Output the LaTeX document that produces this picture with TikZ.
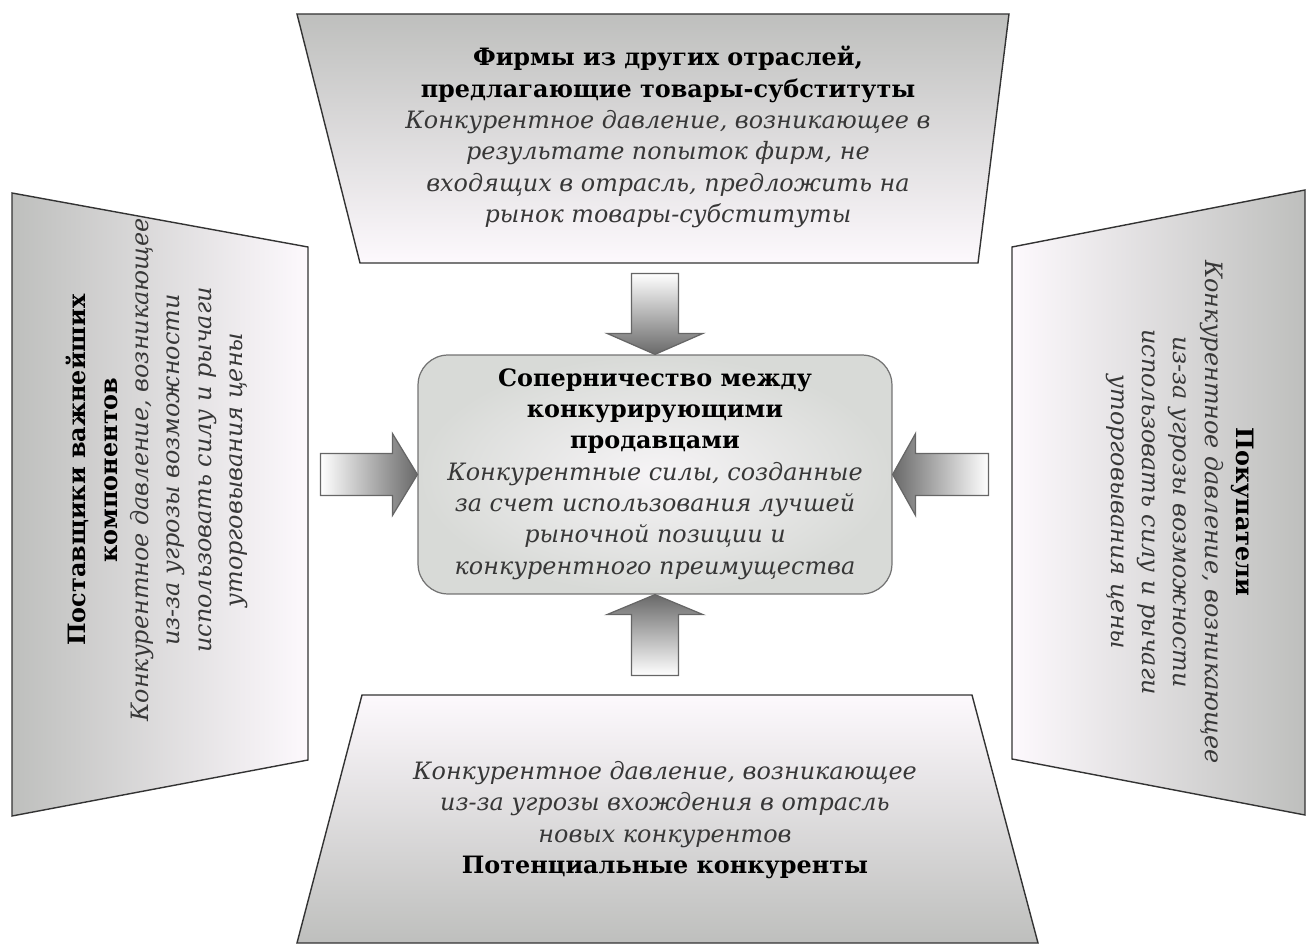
\documentclass[tikz,border=0pt]{standalone}
\usepackage{fontspec}
\setmainfont{DejaVu Serif}
\usepackage{tikz}
\definecolor{panelgray}{RGB}{190,191,189}
\definecolor{panelwhite}{RGB}{253,249,253}
\definecolor{arrowdark}{RGB}{105,105,105}
\definecolor{boxgray}{RGB}{216,218,215}
\definecolor{boxlight}{RGB}{246,244,246}
\definecolor{notegray}{RGB}{55,55,55}
\tikzset{panel/.style={draw=black!80,line width=0.8pt}}
\tikzset{bigarrow/.style={draw=black!60,line width=0.7pt}}
\tikzset{headtxt/.style={font=\fontsize{13.6}{17.8}\selectfont,align=center,inner sep=0pt}}
\newcommand{\hd}[1]{\textbf{#1}}
\newcommand{\nt}[1]{{\color{notegray}\itshape #1}}

\begin{document}
\begin{tikzpicture}[x=0.02cm,y=-0.02cm]
      \useasboundingbox (0,0) rectangle (1306,945);
      % four panels
      \draw [panel,top color=panelgray,bottom color=panelwhite] (297,14) -- (1009,14) -- (978,263) -- (360,263) -- cycle;
      \draw [panel,left color=panelgray,right color=panelwhite] (12,193) -- (308,247) -- (308,760) -- (12,816) -- cycle;
      \draw [panel,left color=panelwhite,right color=panelgray] (1012,247) -- (1305,190) -- (1305,815) -- (1012,759) -- cycle;
      \draw [panel,top color=panelwhite,bottom color=panelgray] (362,695) -- (972,695) -- (1038,943) -- (297,943) -- cycle;
      % centre
      \node (rivalry) [draw=black!55,line width=0.7pt,rounded corners=0.6cm,minimum width=9.48cm,minimum height=4.78cm,
        outer color=boxgray,inner color=boxlight] at (655,474.5) {};
      \node [headtxt] at (655,474) {\hd{Соперничество между}\\ \hd{конкурирующими}\\ \hd{продавцами}\\
        \nt{Конкурентные силы, созданные}\\ \nt{за счет использования лучшей}\\ \nt{рыночной позиции и}\\ \nt{конкурентного преимущества}};
      % arrows into the centre
      \draw [bigarrow,top color=white,bottom color=arrowdark] (rivalry.north) -- ++(-48,-21) -- ++(24.5,0) -- ++(0,-60)
        -- ++(47,0) -- ++(0,60) -- ++(24.5,0) -- cycle;
      \draw [bigarrow,top color=arrowdark,bottom color=white] (rivalry.south) -- ++(-48,20) -- ++(24.5,0) -- ++(0,61)
        -- ++(47,0) -- ++(0,-61) -- ++(24.5,0) -- cycle;
      \draw [bigarrow,left color=white,right color=arrowdark] (rivalry.west) -- ++(-25,-41) -- ++(0,20) -- ++(-72,0)
        -- ++(0,42) -- ++(72,0) -- ++(0,20) -- cycle;
      \draw [bigarrow,left color=arrowdark,right color=white] (rivalry.east) -- ++(23,-41) -- ++(0,20) -- ++(73,0)
        -- ++(0,42) -- ++(-73,0) -- ++(0,20) -- cycle;
      % panel texts
      \node (substitutes) [headtxt] at (668,137) {\hd{Фирмы из других отраслей,}\\ \hd{предлагающие товары-субституты}\\
        \nt{Конкурентное давление, возникающее в}\\ \nt{результате попыток фирм, не}\\
        \nt{входящих в отрасль, предложить на}\\ \nt{рынок товары-субституты}};
      \node (entrants) [headtxt] at (665,820) {\nt{Конкурентное давление, возникающее}\\
        \nt{из-за угрозы вхождения в отрасль}\\ \nt{новых конкурентов}\\ \hd{Потенциальные конкуренты}};
      \node (suppliers) [headtxt,rotate=90] at (157,470) {\hd{Поставщики важнейших}\\ \hd{компонентов}\\
        \nt{Конкурентное давление, возникающее}\\ \nt{из-за угрозы возможности}\\
        \nt{использовать силу и рычаги}\\ \nt{уторговывания цены}};
      \node (buyers) [headtxt,rotate=-90] at (1180,512) {\hd{Покупатели}\\
        \nt{Конкурентное давление, возникающее}\\ \nt{из-за угрозы возможности}\\
        \nt{использовать силу и рычаги}\\ \nt{уторговывания цены}};
    \end{tikzpicture}
\end{document}
